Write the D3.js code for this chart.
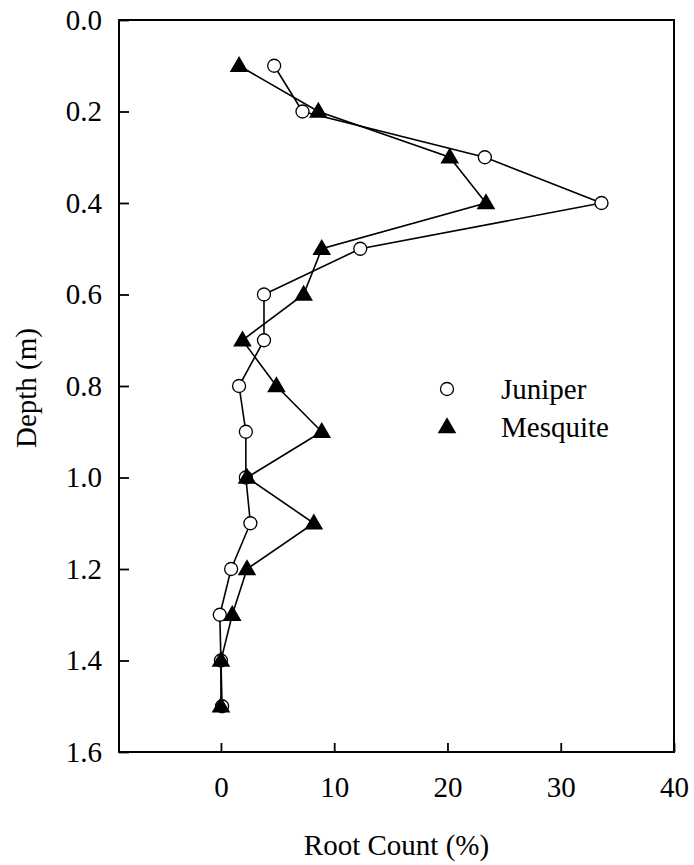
<!DOCTYPE html>
<html>
<head>
<meta charset="utf-8">
<title>Root Count by Depth</title>
<script src="https://cdn.jsdelivr.net/npm/d3@7"></script>
<style>
  html, body { margin: 0; padding: 0; background: #ffffff; }
  #chart_div text { font-family: "Liberation Serif", "Times New Roman", serif; fill: #000000; }
</style>
</head>
<body>
<div id="chart_div"></div>
<div id="chart_err"></div>
<script>
// Depth (m) of each sample
var depths = [0.1, 0.2, 0.3, 0.4, 0.5, 0.6, 0.7, 0.8, 0.9, 1.0, 1.1, 1.2, 1.3, 1.4, 1.5];
// Root count (%) per depth
var juniperValues = [4.7, 7.2, 23.3, 33.6, 12.3, 3.8, 3.8, 1.6, 2.2, 2.2, 2.6, 0.9, -0.1, 0.0, 0.1];
var mesquiteValues = [1.6, 8.6, 20.2, 23.4, 8.9, 7.3, 1.9, 4.9, 8.9, 2.3, 8.2, 2.3, 1.0, 0.0, 0.0];
var xTicks = [0, 10, 20, 30, 40];
var yTicks = [0.0, 0.2, 0.4, 0.6, 0.8, 1.0, 1.2, 1.4, 1.6];
var seriesNames = ["Juniper", "Mesquite"];

var rootchart = (function (d3) {
  "use strict";

  var loc_divErr = "chart_err",
      iWidth = 694,
      iHeight = 865,
      oBox = { left: 119, right: 674, top: 20, bottom: 752 };

  var private_methods = {
    errMsg: function (sMsg, ex) {
      d3.select("#" + loc_divErr).html("Error in [" + sMsg + "]<br>" + ex.message);
    },
    // Zip depths and values into points
    points: function (aValues) {
      return aValues.map(function (v, i) { return { x: v, y: depths[i] }; });
    },
    addMarker: function (sel, sKind, cx, cy) {
      if (sKind === "circle") {
        sel.append("circle")
          .attr("cx", cx).attr("cy", cy).attr("r", 6.5)
          .attr("fill", "#ffffff").attr("stroke", "#000000").attr("stroke-width", 1.3);
      } else {
        sel.append("path")
          .attr("d", d3.symbol().type(d3.symbolTriangle).size(150)())
          .attr("transform", "translate(" + cx + "," + (cy + 1) + ")")
          .attr("fill", "#000000");
      }
    }
  };

  return {
    draw: function (sDiv) {
      var svg = null,
          x = null,
          y = null,
          line = null,
          aSeries = [];

      try {
        svg = d3.select("#" + sDiv).append("svg")
          .attr("width", iWidth)
          .attr("height", iHeight);

        x = d3.scaleLinear().domain([-9, 40]).range([oBox.left, oBox.right]);
        y = d3.scaleLinear().domain([0, 1.6]).range([oBox.top, oBox.bottom]);

        // Ticks pointing inward, labels outside
        svg.append("g")
          .attr("transform", "translate(0," + oBox.bottom + ")")
          .call(d3.axisBottom(x).tickValues(xTicks).tickSizeInner(-9).tickSizeOuter(0).tickPadding(24))
          .call(function (g) {
            g.select(".domain").remove();
            g.selectAll("line").attr("stroke", "#000").attr("stroke-width", 1.8);
            g.selectAll("text").attr("font-size", "29px").attr("font-family", null);
          });

        svg.append("g")
          .attr("transform", "translate(" + oBox.left + ",0)")
          .call(d3.axisLeft(y).tickValues(yTicks).tickFormat(d3.format(".1f"))
                 .tickSizeInner(-10).tickSizeOuter(0).tickPadding(17))
          .call(function (g) {
            g.select(".domain").remove();
            g.selectAll("line").attr("stroke", "#000").attr("stroke-width", 1.8);
            g.selectAll("text").attr("font-size", "29px").attr("font-family", null);
          });

        // Frame
        svg.append("rect")
          .attr("x", oBox.left).attr("y", oBox.top)
          .attr("width", oBox.right - oBox.left).attr("height", oBox.bottom - oBox.top)
          .attr("fill", "none").attr("stroke", "#000").attr("stroke-width", 2);

        // Series
        line = d3.line().x(function (d) { return x(d.x); }).y(function (d) { return y(d.y); });
        aSeries = [
          { name: seriesNames[0], kind: "circle", pts: private_methods.points(juniperValues) },
          { name: seriesNames[1], kind: "triangle", pts: private_methods.points(mesquiteValues) }
        ];
        aSeries.forEach(function (oS) {
          var g = svg.append("g");
          g.append("path")
            .attr("d", line(oS.pts))
            .attr("fill", "none").attr("stroke", "#000").attr("stroke-width", 1.6);
          oS.pts.forEach(function (p) {
            private_methods.addMarker(g, oS.kind, x(p.x), y(p.y));
          });
        });

        // Legend
        aSeries.forEach(function (oS, i) {
          var g = svg.append("g").attr("transform", "translate(447," + (389 + i * 38) + ")");
          private_methods.addMarker(g, oS.kind, 0, 0);
          g.append("text").attr("x", 54).attr("y", 9.5)
            .attr("font-size", "29px").text(oS.name);
        });

        // Axis titles
        svg.append("text")
          .attr("x", (oBox.left + oBox.right) / 2).attr("y", 855)
          .attr("text-anchor", "middle").attr("font-size", "29px")
          .text("Root Count (%)");
        svg.append("text")
          .attr("transform", "translate(36,388) rotate(-90)")
          .attr("text-anchor", "middle").attr("font-size", "29px")
          .text("Depth (m)");
      } catch (ex) {
        private_methods.errMsg("draw", ex);
      }
    }
  };
}(d3));

rootchart.draw("chart_div");
</script>
</body>
</html>
